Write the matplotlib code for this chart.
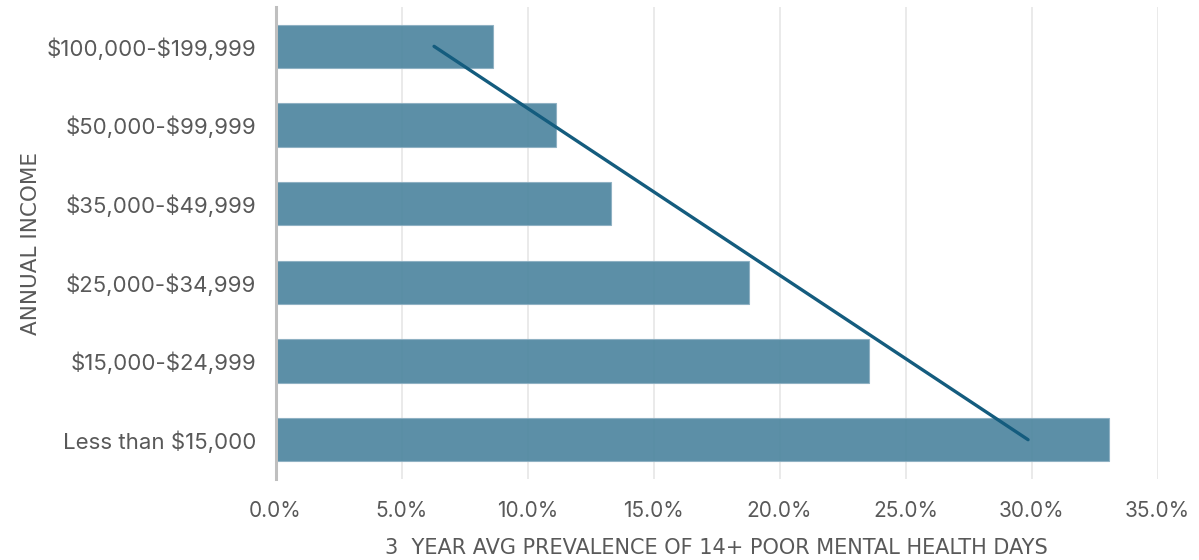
import numpy as np
import matplotlib
matplotlib.use("Agg")
import matplotlib.pyplot as plt
from matplotlib.ticker import PercentFormatter, MultipleLocator

# Income brackets, top of chart first
income_brackets = [
    "$100,000-$199,999",
    "$50,000-$99,999",
    "$35,000-$49,999",
    "$25,000-$34,999",
    "$15,000-$24,999",
    "Less than $15,000",
]
# 3-year average prevalence of 14+ poor mental health days (%)
prevalence_pct = [8.62, 11.13, 13.31, 18.78, 23.54, 33.08]

x_label = "3  YEAR AVG PREVALENCE OF 14+ POOR MENTAL HEALTH DAYS"
y_label = "ANNUAL INCOME"

BAR_COLOR = "#4F87A0"
BAR_EDGE = "#8DB0C2"
TREND_COLOR = "#145C7E"
TEXT_COLOR = "#595959"

plt.rcParams["text.parse_math"] = False
plt.rcParams["font.family"] = ["Inter", "DejaVu Sans"]

fig = plt.figure(figsize=(11.99, 5.60), dpi=100)
ax = fig.add_axes([0.2298, 0.1446, 0.7356, 0.8429])

# bottom-to-top positions: first bracket sits at the top
n = len(income_brackets)
pos = np.arange(n)[::-1]

ax.barh(pos, prevalence_pct, height=0.55, color=BAR_COLOR, alpha=0.93,
        edgecolor=BAR_EDGE, linewidth=0.8, zorder=2)

# linear trendline over the category index
idx = np.arange(1, n + 1)          # 1 = bottom category
vals_bottom_up = np.array(prevalence_pct[::-1])
slope, intercept = np.polyfit(idx, vals_bottom_up, 1)
trend = intercept + slope * idx
ax.plot(trend, idx - 1, color=TREND_COLOR, linewidth=2.4,
        solid_capstyle="round", zorder=4)

ax.set_xlim(0, 35)
ax.set_ylim(-0.5, n - 0.5)
ax.xaxis.set_major_locator(MultipleLocator(5))
ax.xaxis.set_major_formatter(PercentFormatter(decimals=1))
ax.set_yticks(pos)
ax.set_yticklabels(income_brackets)

ax.grid(axis="x", color="#E6E6E6", linewidth=1.2, zorder=1)
ax.set_axisbelow(True)
ax.grid(axis="y", visible=False)

for side in ("top", "right", "bottom"):
    ax.spines[side].set_visible(False)
ax.spines["left"].set_color("#BFBFBF")
ax.spines["left"].set_linewidth(2.2)
ax.spines["left"].set_zorder(5)

ax.tick_params(axis="both", length=0, colors=TEXT_COLOR)
ax.tick_params(axis="x", pad=16, labelsize=15)
ax.tick_params(axis="y", pad=14, labelsize=16)

ax.set_xlabel(x_label, fontsize=15, color=TEXT_COLOR, labelpad=12,
              family=["Liberation Sans Narrow", "DejaVu Sans"])
ax.set_ylabel(y_label, fontsize=15.5, color=TEXT_COLOR, labelpad=4,
              family=["Liberation Sans Narrow", "DejaVu Sans"])

fig.savefig("out.png", dpi=100, facecolor="white")
